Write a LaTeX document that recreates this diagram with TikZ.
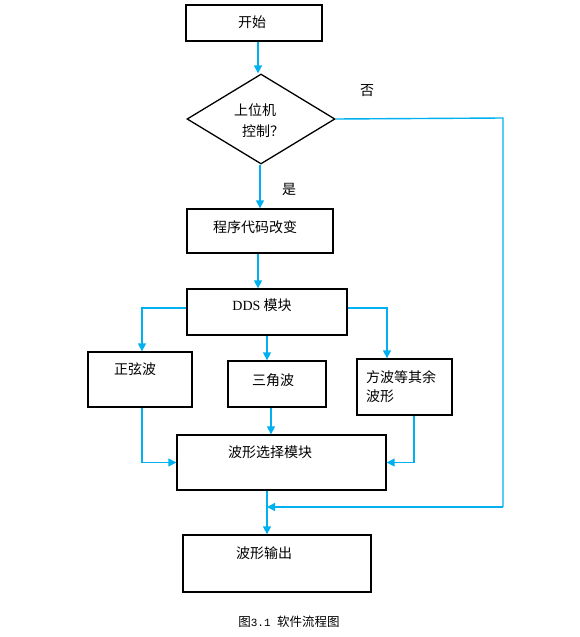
\documentclass[tikz,border=0pt]{standalone}
\usepackage{fontspec}
\setmainfont{Noto Sans CJK SC}
\newfontfamily\latinserif{Liberation Serif}
\newfontfamily\latinmono{Liberation Mono}
\usetikzlibrary{shapes.geometric,arrows.meta}
\definecolor{flow}{RGB}{0,176,240}
\tikzset{
  box/.style={draw=black, line width=1.3pt, rectangle, inner sep=0pt, fill=white},
  arr/.style={draw=flow, line width=1.4pt, -{Triangle[width=8pt,length=8pt]}},
  ln/.style={draw=flow, line width=1.4pt},
  txt/.style={font=\fontsize{14}{16}\selectfont, inner sep=0pt},
  captxt/.style={font=\fontsize{12.5}{14}\selectfont, inner sep=0pt}
}
\begin{document}
\begin{tikzpicture}[x=1pt,y=-1pt]
\useasboundingbox (0,0) rectangle (579,637);
% boxes
\node[box, minimum width=136, minimum height=36] (start) at (254,23) {};
\node[draw=black, line width=1.3pt, diamond, aspect=1.64, minimum width=148, minimum height=90, inner sep=0pt] (dia) at (261,119) {};
\node[box, minimum width=146, minimum height=44] (prog) at (260,231) {};
\node[box, minimum width=160, minimum height=46] (dds) at (267,312) {};
\node[box, minimum width=104, minimum height=55] (sin) at (140,379.5) {};
\node[box, minimum width=98, minimum height=46] (tri) at (277,384) {};
\node[box, minimum width=95, minimum height=56] (sq) at (404.5,387) {};
\node[box, minimum width=209, minimum height=55] (sel) at (281.5,462.5) {};
\node[box, minimum width=188, minimum height=57] (out) at (277,563.5) {};
% texts
\node[txt] (tstart) at (252,22) {开始};
\node[txt] (tdia1) at (255,110) {上位机};
\node[txt] (tdia2) at (263,131) {控制？};
\node[txt] (tno) at (367,91) {否};
\node[txt] (tyes) at (289,189) {是};
\node[txt] (tprog) at (255,227) {程序代码改变};
\node[txt] (tdds) at (262,305) {{\latinserif DDS} 模块};
\node[txt] (tsin) at (135,369) {正弦波};
\node[txt] (ttri) at (273,380) {三角波};
\node[txt, anchor=west] (tsq1) at (366,377) {方波等其余};
\node[txt, anchor=west] (tsq2) at (366,396) {波形};
\node[txt] (tsel) at (270,452) {波形选择模块};
\node[txt] (tout) at (264,553) {波形输出};
\node[captxt] (caption) at (289,622) {图{\latinmono\fontsize{11}{13}\selectfont 3.1 }软件流程图};
% coordinates
\coordinate (fbtop) at (503,118);
\coordinate (fbbot) at (503,507);
\coordinate (join) at (267,507);
% connectors
\draw[arr] ([xshift=4pt]start.south) -- ([xshift=4pt]start.south |- dia.north);
\draw[arr] ([xshift=-1pt]dia.south) -- ([xshift=-1pt]dia.south |- prog.north);
\draw[ln] (dia.east) -- (fbtop) -- (fbbot);
\draw[arr] (fbbot) -- (join);
\draw[arr] ([xshift=-2pt]prog.south) -- ([xshift=-2pt]prog.south |- dds.north);
\draw[arr] ([yshift=4pt]dds.west) -| ([xshift=2pt]sin.north);
\draw[arr] (dds.south) -- (dds.south |- tri.north);
\draw[arr] ([yshift=4pt]dds.east) -| ([xshift=-17.5pt]sq.north);
\draw[arr] ([xshift=2pt]sin.south) |- (sel.west);
\draw[arr] ([xshift=-6pt]tri.south) -- ([xshift=-6pt]tri.south |- sel.north);
\draw[arr] ([xshift=9.5pt]sq.south) |- (sel.east);
\draw[arr] ([xshift=-14.5pt]sel.south) -- ([xshift=-14.5pt]sel.south |- out.north);
\end{tikzpicture}
\end{document}
